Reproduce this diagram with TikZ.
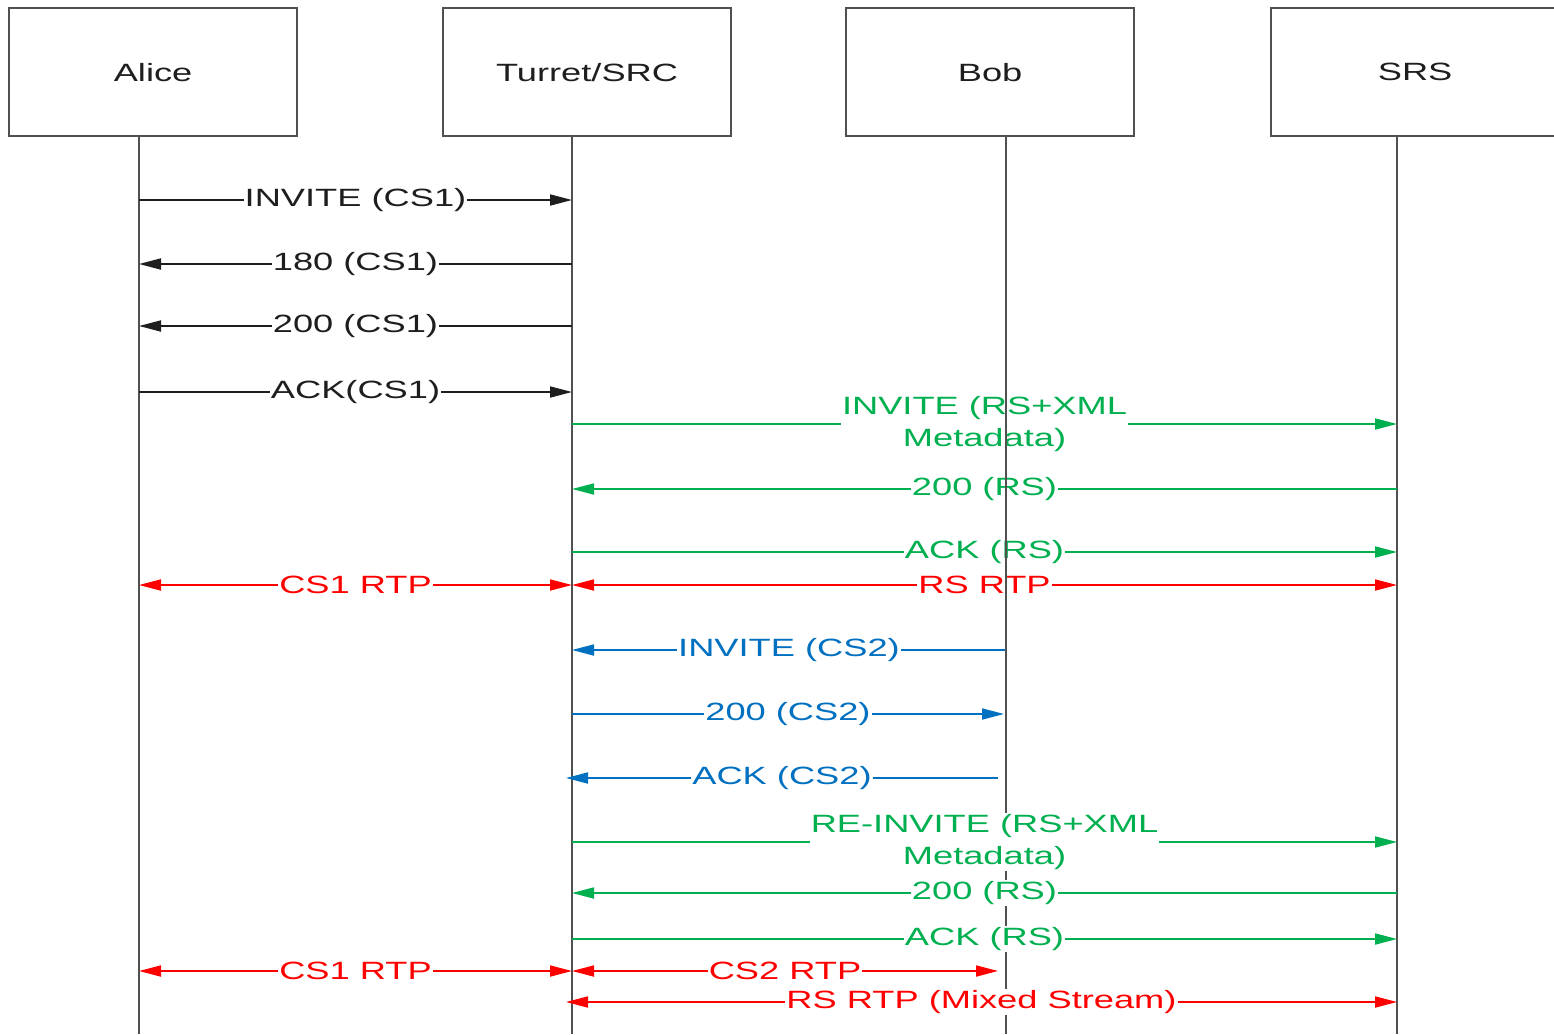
\documentclass[tikz,border=0pt]{standalone}
\usepackage{fontspec}
\setmainfont{Liberation Sans}[FakeStretch=1.45]
\usetikzlibrary{arrows.meta}
\definecolor{sgreen}{RGB}{0,176,80}
\definecolor{sblue}{RGB}{0,112,192}
\definecolor{sred}{RGB}{255,0,0}
\definecolor{lgray}{RGB}{80,80,80}
\definecolor{txt}{RGB}{30,30,30}
\begin{document}
\begin{tikzpicture}[x=1pt,y=-1pt,
 actor/.style={draw=lgray,line width=2.2pt,minimum width=288pt,minimum height=128pt,inner sep=0pt,font=\fontsize{25}{30}\selectfont,text=txt,anchor=north west},
 life/.style={draw=lgray,line width=2.4pt},
 msg/.style={line width=1.8pt,-{Triangle[length=22pt,width=11pt]}},
 both/.style={line width=1.8pt,{Triangle[length=22pt,width=11pt]}-{Triangle[length=22pt,width=11pt]}},
 lbl/.style={fill=white,inner sep=1pt,font=\fontsize{25}{32}\selectfont,align=center}
]
\useasboundingbox (0,0) rectangle (1554,1034);
\clip (0,0) rectangle (1554,1034);
% actors
\node[actor] (alice) at (8,7) {Alice};
\node[actor] (turret) at (442,7) {Turret/SRC};
\node[actor] (bob) at (845,7) {Bob};
\node[actor] (srs) at (1270,7) {SRS};
% lifeline anchors
\coordinate (A) at (139,135);
\coordinate (T) at (572,135);
\coordinate (B) at (1006,135);
\coordinate (S) at (1397,135);
\coordinate (bot) at (0,1034);
\coordinate (mid) at (0,805);
\draw[life] (A) -- (A |- bot);
\draw[life] (T) -- (T |- bot);
\draw[life] (B) -- (B |- bot);
\draw[life] (S) -- (S |- bot);
% rows
\coordinate (r1) at (0,200);
\coordinate (r2) at (0,264);
\coordinate (r3) at (0,326);
\coordinate (r4) at (0,392);
\coordinate (r5) at (0,424);
\coordinate (r6) at (0,489);
\coordinate (r7) at (0,552);
\coordinate (r8) at (0,585);
\coordinate (r9) at (0,650);
\coordinate (r10) at (0,714);
\coordinate (r11) at (0,778);
\coordinate (r12) at (0,842);
\coordinate (r13) at (0,893);
\coordinate (r14) at (0,939);
\coordinate (r15) at (0,971);
\coordinate (r16) at (0,1002);
% CS1 signalling
\draw[msg,txt] (A |- r1) -- node[lbl]{INVITE (CS1)} (T |- r1);
\draw[msg,txt] (T |- r2) -- node[lbl]{180 (CS1)} (A |- r2);
\draw[msg,txt] (T |- r3) -- node[lbl]{200 (CS1)} (A |- r3);
\draw[msg,txt] (A |- r4) -- node[lbl]{ACK(CS1)} (T |- r4);
% RS signalling
\draw[msg,sgreen] (T |- r5) -- node[lbl]{INVITE (RS+XML\\Metadata)} (S |- r5);
\draw[msg,sgreen] (S |- r6) -- node[lbl]{200 (RS)} (T |- r6);
\draw[msg,sgreen] (T |- r7) -- node[lbl]{ACK (RS)} (S |- r7);
\draw[both,sred] (A |- r8) -- node[lbl]{CS1 RTP} (T |- r8);
\draw[both,sred] (T |- r8) -- node[lbl]{RS RTP} (S |- r8);
% CS2 signalling
\draw[msg,sblue] (B |- r9) -- node[lbl]{INVITE (CS2)} (T |- r9);
\draw[msg,sblue] (T |- r10) -- node[lbl]{200 (CS2)} ([xshift=-2pt]B |- r10);
\draw[msg,sblue] ([xshift=-8pt]B |- r11) -- node[lbl]{ACK (CS2)} ([xshift=-6pt]T |- r11);
% Bob's lifeline drawn over the upper labels
\draw[life] (B) -- (B |- mid);
% RS re-invite
\draw[msg,sgreen] (T |- r12) -- node[lbl]{RE-INVITE (RS+XML\\Metadata)} (S |- r12);
\draw[msg,sgreen] (S |- r13) -- node[lbl]{200 (RS)} (T |- r13);
\draw[msg,sgreen] (T |- r14) -- node[lbl]{ACK (RS)} (S |- r14);
\draw[both,sred] (A |- r15) -- node[lbl]{CS1 RTP} (T |- r15);
\draw[both,sred] (T |- r15) -- node[lbl]{CS2 RTP} ([xshift=-8pt]B |- r15);
\draw[both,sred] ([xshift=-6pt]T |- r16) -- node[lbl]{RS RTP (Mixed Stream)} (S |- r16);
\end{tikzpicture}
\end{document}
